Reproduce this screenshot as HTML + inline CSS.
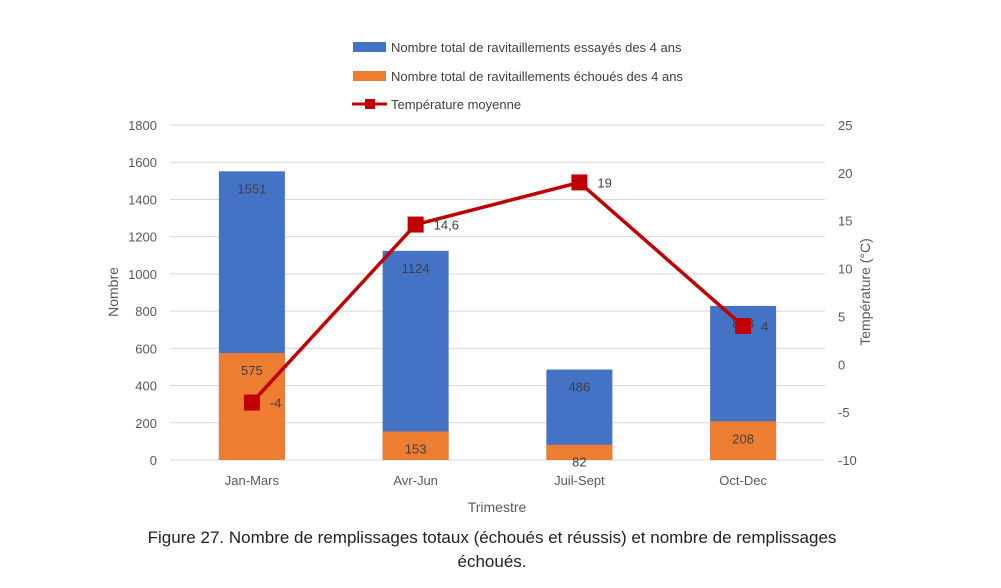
<!DOCTYPE html>
<html><head><meta charset="utf-8"><style>
body{margin:0;background:#fff;}
svg text{font-family:"Liberation Sans",sans-serif;}
</style></head><body>
<svg id="c" width="1001" height="583" xmlns="http://www.w3.org/2000/svg">
<g id="grid"></g>
<g id="bars"></g>
<g id="line"></g>
<g id="axes"></g>
<g>
<rect x="353" y="42" width="33" height="10" fill="#4472c4"/>
<text x="391" y="52" font-size="13" fill="#404040">Nombre total de ravitaillements essayés des 4 ans</text>
<rect x="353" y="71" width="33" height="10" fill="#ed7d31"/>
<text x="391" y="81" font-size="13" fill="#404040">Nombre total de ravitaillements échoués des 4 ans</text>
<line x1="352" y1="104" x2="387" y2="104" stroke="#c00000" stroke-width="3"/>
<rect x="365" y="99" width="10" height="10" fill="#c00000"/>
<text x="391" y="109" font-size="13" fill="#404040">Température moyenne</text>
</g>
<text x="118" y="292" font-size="14" fill="#595959" text-anchor="middle" transform="rotate(-90 118 292)">Nombre</text>
<text x="870" y="292" font-size="14" fill="#595959" text-anchor="middle" transform="rotate(-90 870 292)">Température (°C)</text>
<text x="497" y="512" font-size="14" fill="#595959" text-anchor="middle">Trimestre</text>
<text x="492" y="543" font-size="17" fill="#222" text-anchor="middle">Figure 27. Nombre de remplissages totaux (échoués et réussis) et nombre de remplissages</text>
<text x="492" y="567" font-size="17" fill="#222" text-anchor="middle">échoués.</text>
</svg>
<script>
const categories=["Jan-Mars","Avr-Jun","Juil-Sept","Oct-Dec"];
const totals=[1551,1124,486,828];
const failed=[575,153,82,208];
const temps=[-4,14.6,19,4];
const tempLabels=["-4","14,6","19","4"];
const leftTicks=[0,200,400,600,800,1000,1200,1400,1600,1800];
const rightTicks=[-10,-5,0,5,10,15,20,25];
const NS="http://www.w3.org/2000/svg";
const X0=170,X1=825,Y0=460,Y1=125;
const y=v=>Y0-v*(Y0-Y1)/1800;
const yr=t=>Y0-(t+10)*(Y0-Y1)/35;
const bw=(X1-X0)/categories.length;
const xc=i=>X0+bw*(i+0.5);
function mk(tag,attrs,parent,text){const e=document.createElementNS(NS,tag);for(const k in attrs)e.setAttribute(k,attrs[k]);if(text!==undefined)e.textContent=text;parent.appendChild(e);return e;}
const grid=document.getElementById('grid'),bars=document.getElementById('bars'),line=document.getElementById('line'),axes=document.getElementById('axes');
leftTicks.forEach(v=>{
 const l=mk('line',{x1:X0,x2:X1,y1:y(v),y2:y(v),stroke:'#d9d9d9','stroke-width':1},grid);
 
 
 const t=mk('text',{x:157,y:y(v)+5,'font-size':13,fill:'#595959','text-anchor':'end'},axes,String(v));
 
 
});
rightTicks.forEach(v=>{
 const t=mk('text',{x:838,y:yr(v)+5,'font-size':13,fill:'#595959'},axes,String(v));
 
 
});
categories.forEach((c,i)=>{
 const w=66,x=xc(i)-w/2;
 const b=mk('rect',{x:x,y:y(totals[i]),width:w,height:Y0-y(totals[i]),fill:'#4472c4'},bars);
 
 
 const o=mk('rect',{x:x,y:y(failed[i]),width:w,height:Y0-y(failed[i]),fill:'#ed7d31'},bars);
 
 
 const lt=mk('text',{x:xc(i),y:y(totals[i])+22,'font-size':13,fill:'#404040','text-anchor':'middle'},bars,String(totals[i]));
 
 
 const lf=mk('text',{x:xc(i),y:y(failed[i])+22,'font-size':13,fill:'#404040','text-anchor':'middle'},bars,String(failed[i]));
 
 
 const xl=mk('text',{x:xc(i),y:485,'font-size':13,fill:'#595959','text-anchor':'middle'},axes,c);
 
 
});
const pl=mk('polyline',{points:temps.map((t,i)=>xc(i)+','+yr(t)).join(' '),fill:'none',stroke:'#c00000','stroke-width':3.5},line);


temps.forEach((t,i)=>{
 const m=mk('rect',{x:xc(i)-8,y:yr(t)-8,width:16,height:16,fill:'#c00000'},line);
 
 
 const l=mk('text',{x:xc(i)+18,y:yr(t)+5,'font-size':13,fill:'#404040'},line,tempLabels[i]);
 
 
});
</script>
</body></html>
